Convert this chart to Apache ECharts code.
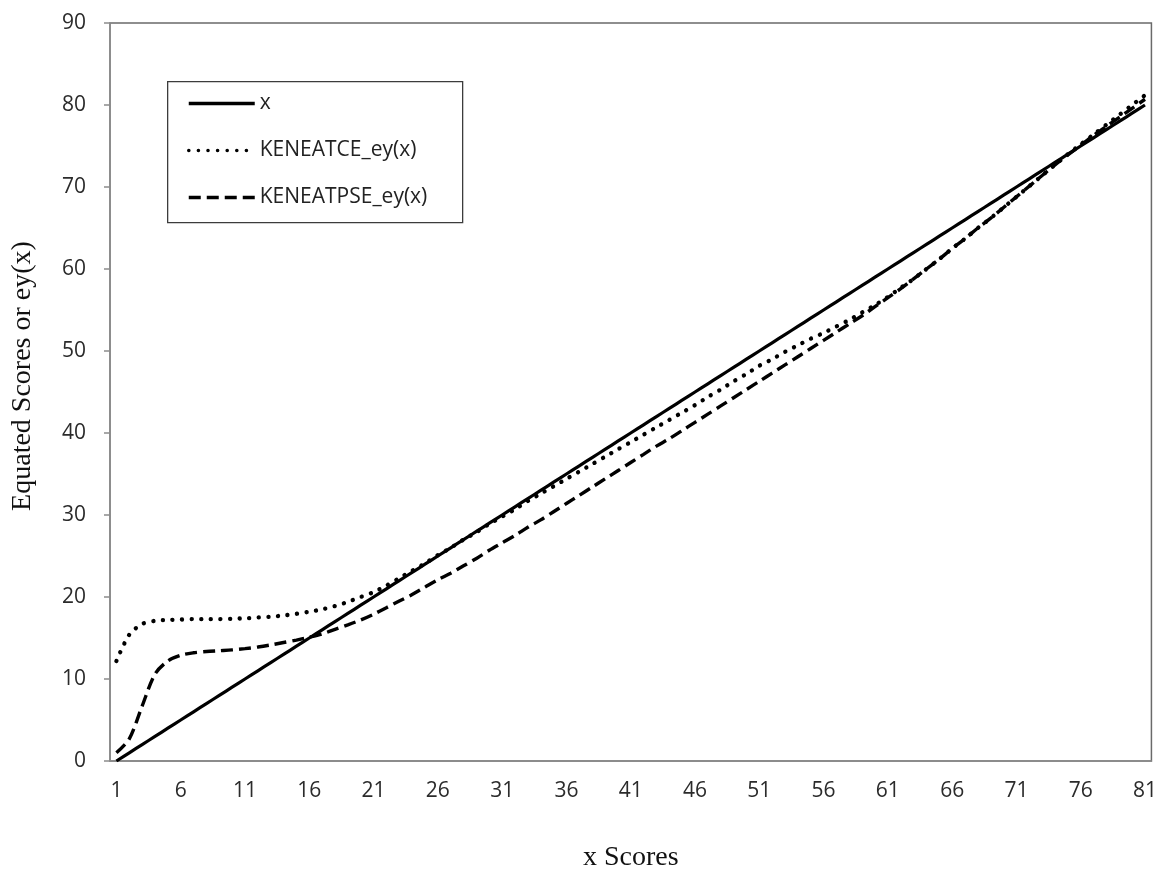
<!DOCTYPE html>
<html>
<head>
<meta charset="utf-8">
<script src="https://cdn.jsdelivr.net/npm/echarts@6/dist/echarts.min.js"></script>
<style>
html,body{margin:0;padding:0;background:#fff;overflow:hidden;}
#chart{width:1160px;height:877px;}
</style>
</head>
<body>
<div id="chart"></div>
<script>
const categories = ['1','2','3','4','5','6','7','8','9','10','11','12','13','14','15','16','17','18','19','20',
'21','22','23','24','25','26','27','28','29','30','31','32','33','34','35','36','37','38','39','40',
'41','42','43','44','45','46','47','48','49','50','51','52','53','54','55','56','57','58','59','60',
'61','62','63','64','65','66','67','68','69','70','71','72','73','74','75','76','77','78','79','80','81'];

const xValues = [0,1,2,3,4,5,6,7,8,9,10,11,12,13,14,15,16,17,18,19,
20,21,22,23,24,25,26,27,28,29,30,31,32,33,34,35,36,37,38,39,
40,41,42,43,44,45,46,47,48,49,50,51,52,53,54,55,56,57,58,59,
60,61,62,63,64,65,66,67,68,69,70,71,72,73,74,75,76,77,78,79,80];

const keneatce = [12.2,15.4,16.7,17.1,17.2,17.25,17.3,17.3,17.3,17.35,
17.4,17.5,17.6,17.75,17.95,18.2,18.5,18.9,19.4,20.0,
20.6,21.4,22.3,23.2,24.1,25.1,26.0,27.0,27.9,28.9,
29.8,30.7,31.7,32.6,33.5,34.4,35.3,36.2,37.1,38.0,
38.9,39.8,40.7,41.6,42.5,43.4,44.4,45.3,46.3,47.2,
48.2,49.0,49.9,50.7,51.5,52.2,53.0,53.8,54.7,55.6,
56.6,57.7,58.8,60.0,61.2,62.5,63.7,65.0,66.2,67.5,
68.8,70.1,71.4,72.7,74.0,75.2,76.4,77.6,78.8,80.0,81.2];

const keneatpse = [1.0,2.7,6.7,10.6,12.2,12.9,13.2,13.35,13.45,13.55,
13.7,13.9,14.15,14.45,14.75,15.1,15.5,16.05,16.6,17.2,
17.9,18.7,19.5,20.3,21.2,22.1,22.9,23.8,24.7,25.7,
26.6,27.5,28.5,29.4,30.4,31.4,32.4,33.4,34.4,35.4,
36.4,37.4,38.4,39.3,40.3,41.3,42.3,43.3,44.3,45.3,
46.3,47.3,48.3,49.3,50.3,51.3,52.3,53.3,54.3,55.4,
56.5,57.6,58.8,60.0,61.2,62.5,63.7,65.0,66.2,67.5,
68.8,70.1,71.4,72.7,73.9,75.1,76.3,77.4,78.5,79.6,80.7];

const seriesNames = ['x','KENEATCE_ey(x)','KENEATPSE_ey(x)'];
const yTitle = 'Equated Scores or ey(x)';
const xTitle = 'x Scores';

const chart = echarts.init(document.getElementById('chart'), null, {renderer:'canvas'});
const labelFont = {fontFamily:'"Open Sans", sans-serif', fontSize:21, color:'#2b2b2b'};
const serifFont = {fontFamily:'"Liberation Serif", "Times New Roman", serif', fontSize:28, color:'#111'};

chart.setOption({
  animation:false,
  backgroundColor:'#fff',
  grid:{left:110, width:1042, top:23, height:746, show:true, borderColor:'#6a6a6a', borderWidth:1.5, backgroundColor:'#fff'},
  graphic:[
    {type:'rect', left:167, top:81, shape:{width:295, height:141}, style:{fill:'#fff', stroke:'#3c3c3c', lineWidth:1.3}, z:3}
  ],
  legend:{
    orient:'vertical', left:187, top:91, padding:0, itemWidth:66, itemHeight:25, itemGap:22,
    itemStyle:{opacity:0},
    lineStyle:{width:3.5},
    textStyle:Object.assign({}, labelFont, {color:'#222', lineHeight:25}),
    data:seriesNames, z:5
  },
  xAxis:{
    type:'category', data:categories, boundaryGap:true,
    axisLine:{lineStyle:{color:'#8c8c8c', width:1.5}},
    axisTick:{interval:4, length:6, lineStyle:{color:'#8c8c8c', width:1.5}},
    axisLabel:Object.assign({interval:4, margin:20}, labelFont),
    name:xTitle, nameLocation:'middle', nameGap:83,
    nameTextStyle:serifFont
  },
  yAxis:{
    type:'value', min:0, max:90, interval:10,
    axisLine:{show:true, lineStyle:{color:'#8c8c8c', width:1.5}},
    axisTick:{show:true, length:6, lineStyle:{color:'#8c8c8c', width:1.5}},
    splitLine:{show:false},
    axisLabel:Object.assign({margin:24}, labelFont),
    name:yTitle, nameLocation:'middle', nameRotate:90, nameGap:73,
    nameTextStyle:Object.assign({padding:[0,0,0,32]}, serifFont)
  },
  series:[
    {name:seriesNames[0], type:'line', data:xValues, symbol:'none', smooth:0.3,
     lineStyle:{color:'#000', width:3.2}, itemStyle:{color:'#000'}},
    {name:seriesNames[1], type:'line', data:keneatce, symbol:'none', smooth:0.3,
     lineStyle:{color:'#000', width:4.3, type:[0.1,9.5], cap:'round'}, itemStyle:{color:'#000'}},
    {name:seriesNames[2], type:'line', data:keneatpse, symbol:'none', smooth:0.3,
     lineStyle:{color:'#000', width:3.4, type:[12,6]}, itemStyle:{color:'#000'}}
  ]
});
</script>
</body>
</html>
